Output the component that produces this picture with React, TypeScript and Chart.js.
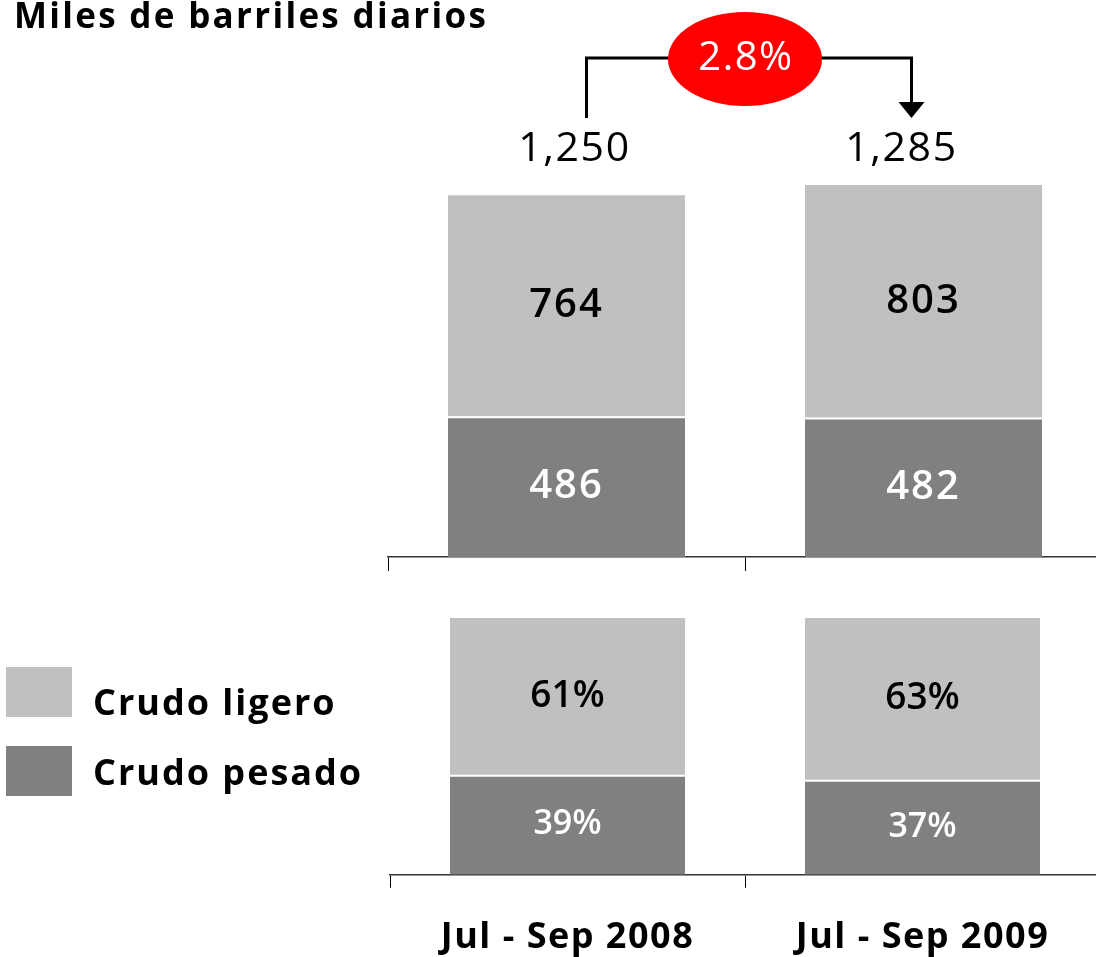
import React, { useEffect, useRef } from 'react';
import { Chart, registerables } from 'chart.js';

Chart.register(...registerables);

// ---- data ----
const categories = ['Jul - Sep 2008', 'Jul - Sep 2009'];
const heavyBarrels = [486, 482];
const lightBarrels = [764, 803];
const totalBarrels = [1250, 1285];
const heavyShare = [39, 37];
const lightShare = [61, 63];
const growthLabel = '2.8%';
const seriesNames = ['Crudo ligero', 'Crudo pesado'];
const titleText = 'Miles de barriles diarios';

const FONT = '"Open Sans", "Noto Sans", sans-serif';
const LIGHT = '#c0c0c0';
const DARK = '#808080';

function segmentLabels(suffix: string, sizes: number[], spacing: string) {
  return {
    id: 'segmentLabels',
    beforeDraw(chart: any) {
      (chart.ctx as any).letterSpacing = '1.5px';
    },
    afterDatasetsDraw(chart: any) {
      const ctx = chart.ctx;
      chart.data.datasets.forEach((ds: any, di: number) => {
        const meta = chart.getDatasetMeta(di);
        meta.data.forEach((el: any, i: number) => {
          const { x, y, base } = el.getProps(['x', 'y', 'base'], true);
          ctx.save();
          (ctx as any).letterSpacing = spacing;
          ctx.fillStyle = di === 0 ? '#ffffff' : '#000000';
          ctx.font = `600 ${sizes[di]}px ${FONT}`;
          ctx.textAlign = 'center';
          ctx.textBaseline = 'middle';
          ctx.fillText(String(ds.data[i]) + suffix, x, (y + base) / 2);
          ctx.restore();
        });
      });
    },
  };
}

const topDecor = {
  id: 'topDecor',
  afterDatasetsDraw(chart: any) {
    const ctx = chart.ctx;
    const bars = chart.getDatasetMeta(1).data as any[];
    const xs = bars.map((b) => b.x);
    const topY = Math.min(...bars.map((b) => b.y));
    const labelY = topY - 36;
    const labelOffsets = [8, -22];

    // title
    ctx.save();
    (ctx as any).letterSpacing = '2.3px';
    ctx.fillStyle = '#000';
    ctx.font = `bold 35px ${FONT}`;
    ctx.textAlign = 'left';
    ctx.textBaseline = 'alphabetic';
    ctx.fillText(titleText, 14, 28);
    ctx.restore();

    // totals
    ctx.save();
    (ctx as any).letterSpacing = '1.6px';
    ctx.fillStyle = '#000';
    ctx.font = `400 41px ${FONT}`;
    ctx.textAlign = 'center';
    ctx.textBaseline = 'middle';
    totalBarrels.forEach((v, i) => {
      ctx.fillText(v.toLocaleString('en-US'), xs[i] + labelOffsets[i], labelY);
    });
    ctx.restore();

    // connector
    const x1 = xs[0] + 20;
    const x2 = xs[1] - 12;
    const yLine = labelY - 91;
    const yFoot = labelY - 31;
    ctx.save();
    ctx.strokeStyle = '#000';
    ctx.lineWidth = 3;
    ctx.beginPath();
    ctx.moveTo(x1, yFoot);
    ctx.lineTo(x1, yLine);
    ctx.lineTo(x2, yLine);
    ctx.lineTo(x2, yFoot - 16);
    ctx.stroke();
    ctx.fillStyle = '#000';
    ctx.beginPath();
    ctx.moveTo(x2 - 13, yFoot - 16);
    ctx.lineTo(x2 + 13, yFoot - 16);
    ctx.lineTo(x2, yFoot);
    ctx.closePath();
    ctx.fill();

    const cx = (xs[0] + xs[1]) / 2;
    ctx.fillStyle = '#ff0000';
    ctx.beginPath();
    ctx.ellipse(cx, yLine + 1, 77, 47, 0, 0, Math.PI * 2);
    ctx.fill();
    (ctx as any).letterSpacing = '1.5px';
    ctx.fillStyle = '#ffffff';
    ctx.font = `400 40px ${FONT}`;
    ctx.textAlign = 'center';
    ctx.textBaseline = 'middle';
    ctx.fillText(growthLabel, cx + 1, yLine + 1);
    ctx.restore();
  },
};

export default function App() {
  const topRef = useRef<HTMLCanvasElement>(null);
  const botRef = useRef<HTMLCanvasElement>(null);

  useEffect(() => {
    const topChart = new Chart(topRef.current as HTMLCanvasElement, {
      type: 'bar',
      data: {
        labels: categories,
        datasets: [
          {
            label: seriesNames[1],
            data: heavyBarrels,
            backgroundColor: DARK,
            borderColor: '#ffffff',
            borderWidth: { top: 2, left: 0, right: 0, bottom: 0 },
            borderSkipped: false,
            categoryPercentage: 1,
            barPercentage: 0.664,
          },
          {
            label: seriesNames[0],
            data: lightBarrels,
            backgroundColor: LIGHT,
            borderWidth: 0,
            categoryPercentage: 1,
            barPercentage: 0.664,
          },
        ],
      },
      options: {
        responsive: false,
        maintainAspectRatio: false,
        animation: false,
        events: [],
        layout: { padding: { left: 388, right: 0, top: 7, bottom: 9 } },
        plugins: { legend: { display: false }, tooltip: { enabled: false }, title: { display: false } },
        scales: {
          x: {
            stacked: true,
            grid: { offset: true, drawOnChartArea: false, drawTicks: true, tickLength: 14, color: '#000', lineWidth: 1 },
            border: { display: true, color: '#333', width: 1.5 },
            ticks: { display: false },
          },
          y: { stacked: true, display: false, min: 0, max: 1900 },
        },
      },
      plugins: [segmentLabels('', [40, 40], '2px'), topDecor],
    } as any);

    const botChart = new Chart(botRef.current as HTMLCanvasElement, {
      type: 'bar',
      data: {
        labels: categories,
        datasets: [
          {
            label: seriesNames[1],
            data: heavyShare,
            backgroundColor: DARK,
            borderColor: '#ffffff',
            borderWidth: { top: 2, left: 0, right: 0, bottom: 0 },
            borderSkipped: false,
            categoryPercentage: 1,
            barPercentage: 0.662,
          },
          {
            label: seriesNames[0],
            data: lightShare,
            backgroundColor: LIGHT,
            borderWidth: 0,
            categoryPercentage: 1,
            barPercentage: 0.662,
          },
        ],
      },
      options: {
        responsive: false,
        maintainAspectRatio: false,
        animation: false,
        events: [],
        layout: { padding: { left: 390, right: 2, top: 18, bottom: 0 } },
        plugins: { legend: { display: false }, tooltip: { enabled: false }, title: { display: false } },
        scales: {
          x: {
            stacked: true,
            grid: { offset: true, drawOnChartArea: false, drawTicks: true, tickLength: 13, color: '#000', lineWidth: 1 },
            border: { display: true, color: '#333', width: 1.5 },
            ticks: { color: '#000', padding: 28, font: { family: FONT, size: 36, weight: 'bold' } },
          },
          y: { stacked: true, display: false, min: 0, max: 100 },
        },
      },
      plugins: [segmentLabels('%', [34, 37], '0px')],
    } as any);

    return () => {
      topChart.destroy();
      botChart.destroy();
    };
  }, []);

  const legendText: React.CSSProperties = {
    position: 'absolute',
    left: 93,
    font: `bold 36px ${FONT}`,
    letterSpacing: '2px',
    color: '#000',
    lineHeight: '50px',
    whiteSpace: 'nowrap',
  };

  return (
    <div style={{ position: 'absolute', left: 0, top: 0, width: 1096, height: 957, overflow: 'hidden', background: '#fff' }}>
      <canvas ref={topRef} width={1102} height={580} style={{ position: 'absolute', left: 0, top: 0, width: 1102, height: 580 }} />
      <canvas ref={botRef} width={1102} height={387} style={{ position: 'absolute', left: 0, top: 600, width: 1102, height: 387 }} />
      <div style={{ position: 'absolute', left: 6, top: 667, width: 66, height: 50, background: LIGHT }} />
      <div style={{ position: 'absolute', left: 6, top: 746, width: 66, height: 50, background: DARK }} />
      <div style={{ ...legendText, top: 677 }}>{seriesNames[0]}</div>
      <div style={{ ...legendText, top: 747 }}>{seriesNames[1]}</div>
    </div>
  );
}
